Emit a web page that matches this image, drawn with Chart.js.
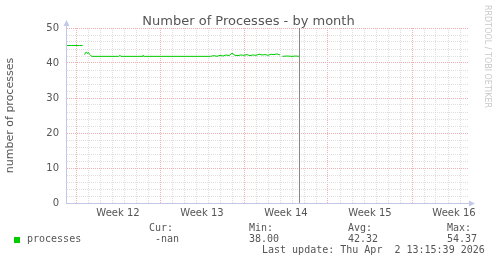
<!DOCTYPE html>
<html>
<head>
<meta charset="utf-8">
<title>Number of Processes - by month</title>
<script src="https://cdn.jsdelivr.net/npm/chart.js@4/dist/chart.umd.min.js"></script>
<style>
html, body { margin: 0; padding: 0; background: #fff; }
#wrap { position: relative; width: 497px; height: 264px; overflow: hidden; }
#chart { position: absolute; left: 0; top: 0; }
.t { position: absolute; font-family: "DejaVu Sans Mono", monospace; font-size: 10px; line-height: 12px; color: #555; white-space: pre; }
.swatch { position: absolute; left: 14px; top: 237px; width: 6px; height: 6px; background: #00cc00; }
</style>
</head>
<body>
<div id="wrap">
  <canvas id="chart" width="497" height="264"></canvas>
  <div class="swatch"></div>
  <div class="t" style="left:27px;top:233px">processes</div>
  <div class="t" style="left:149px;top:222px">Cur:</div>
  <div class="t" style="left:155px;top:233px">-nan</div>
  <div class="t" style="left:249px;top:222px">Min:</div>
  <div class="t" style="left:249px;top:233px">38.00</div>
  <div class="t" style="left:348px;top:222px">Avg:</div>
  <div class="t" style="left:348px;top:233px">42.32</div>
  <div class="t" style="left:447px;top:222px">Max:</div>
  <div class="t" style="left:447px;top:233px">54.37</div>
  <div class="t" style="left:262px;top:244px">Last update: Thu Apr  2 13:15:39 2026</div>
</div>
<script>
// x values are days since the start of week 12
var days = [
    -0.75, -0.4, 0, 0.3, 0.55,
    0.65,
    0.72, 0.8, 0.88, 0.95, 1.02, 1.1, 1.2, 1.3, 2.0, 3.0, 3.55, 3.65, 3.75,
    5.5, 5.58, 5.68, 7.0, 9.0, 11.2,
    11.5, 11.75, 12.0, 12.25, 12.5, 12.75, 13.0, 13.25, 13.5, 13.75, 14.0, 14.25,
    14.5, 14.75, 15.0, 15.25, 15.5, 15.75, 16.0, 16.25, 16.5, 16.75, 17.0,
    17.1,
    17.2, 17.6, 18.0, 18.3, 18.6
];
var processes = [
    45.0, 45.0, 45.0, 45.0, 45.0,
    null,
    42.4, 43.0, 43.1, 42.7, 43.0, 42.6, 42.3, 41.9, 41.9, 41.9, 41.9, 42.2, 41.9,
    41.9, 42.2, 41.9, 41.9, 41.9, 41.9,
    42.1, 41.9, 42.2, 42.0, 42.3, 42.1, 42.8, 42.2, 42.1, 42.3, 42.2, 42.4,
    42.1, 42.3, 42.2, 42.5, 42.3, 42.4, 42.2, 42.5, 42.4, 42.6, 42.3,
    null,
    41.9, 42.0, 41.9, 42.0, 41.9
];
var weekLabels = ['Week 12', 'Week 13', 'Week 14', 'Week 15', 'Week 16'];
var lastUpdateDay = 18.625;
var titleText = 'Number of Processes - by month';
var yAxisTitle = 'number of processes';
var watermark = 'RRDTOOL / TOBI OETIKER';

var axisColor = '#c4c8e8';
var minorGrid = '#dedede';
var majorGrid = '#eeb0b0';
var textColor = '#555';

var decorations = {
    id: 'decorations',
    afterDraw: function (chart) {
        var ctx = chart.ctx, a = chart.chartArea;
        ctx.save();
        ctx.fillStyle = textColor;
        ctx.font = '13px "DejaVu Sans"';
        ctx.textAlign = 'center';
        ctx.textBaseline = 'alphabetic';
        ctx.fillText(titleText, chart.width / 2, 24.5);

        // axis arrows
        ctx.fillStyle = axisColor;
        ctx.strokeStyle = axisColor;
        ctx.lineWidth = 1;
        ctx.beginPath();
        ctx.moveTo(a.left + 0.5, a.top);
        ctx.lineTo(a.left + 0.5, a.top - 3);
        ctx.moveTo(a.right, a.bottom + 0.5);
        ctx.lineTo(a.right + 3, a.bottom + 0.5);
        ctx.stroke();
        ctx.beginPath();
        ctx.moveTo(a.left + 0.5, a.top - 8);
        ctx.lineTo(a.left - 2.5, a.top - 2);
        ctx.lineTo(a.left + 3.5, a.top - 2);
        ctx.closePath();
        ctx.fill();
        ctx.beginPath();
        ctx.moveTo(a.right + 7, a.bottom + 0.5);
        ctx.lineTo(a.right + 1, a.bottom - 2.5);
        ctx.lineTo(a.right + 1, a.bottom + 3.5);
        ctx.closePath();
        ctx.fill();

        // vertical watermark
        ctx.fillStyle = '#c8c8c8';
        ctx.font = '8px "DejaVu Sans"';
        ctx.textAlign = 'left';
        ctx.translate(484.5, 5);
        ctx.rotate(Math.PI / 2);
        ctx.fillText(watermark, 0, 0);
        ctx.restore();
    }
};

var ctx = document.getElementById('chart');
new Chart(ctx, {
    type: 'line',
    data: {
        datasets: [
            {
                label: 'processes',
                data: days.map(function (d, i) { return {x: d, y: processes[i]}; }),
                borderColor: '#00cc00',
                borderWidth: 1,
                pointRadius: 0,
                tension: 0,
                spanGaps: false
            },
            {
                label: 'last update',
                data: [{x: lastUpdateDay, y: 0}, {x: lastUpdateDay, y: 50}],
                borderColor: '#888',
                borderWidth: 1,
                pointRadius: 0
            }
        ]
    },
    options: {
        responsive: false,
        animation: false,
        events: [],
        layout: {padding: {left: 0, top: 28, right: 29, bottom: 0}},
        plugins: {
            legend: {display: false},
            tooltip: {enabled: false}
        },
        scales: {
            x: {
                type: 'linear',
                min: -10 / 12,
                max: 32 + 8 / 12,
                afterBuildTicks: function (scale) {
                    var t = [];
                    for (var k = 0; k <= 65; k++) t.push({value: k * 0.5});
                    scale.ticks = t;
                },
                afterFit: function (scale) { scale.height = 61; },
                ticks: {
                    autoSkip: false,
                    maxRotation: 0,
                    padding: 4,
                    color: textColor,
                    font: {family: 'DejaVu Sans', size: 10},
                    callback: function (v, i) {
                        return i % 14 === 7 ? weekLabels[(i - 7) / 14] : '';
                    }
                },
                grid: {
                    drawTicks: false,
                    lineWidth: 1,
                    color: function (c) {
                        if (c.index % 2 === 1) return 'rgba(0,0,0,0)';
                        return c.index % 14 === 0 ? majorGrid : minorGrid;
                    }
                },
                border: {display: true, color: axisColor, dash: [1, 1]}
            },
            y: {
                min: 0,
                max: 50,
                afterFit: function (scale) { scale.width = 66; },
                ticks: {
                    stepSize: 2,
                    autoSkip: false,
                    padding: 7,
                    color: textColor,
                    font: {family: 'DejaVu Sans', size: 10},
                    callback: function (v) { return v % 10 === 0 ? v : ''; }
                },
                grid: {
                    drawTicks: false,
                    lineWidth: 1,
                    color: function (c) {
                        var v = c.tick.value;
                        if (v === 0) return 'rgba(0,0,0,0)';
                        return v % 10 === 0 ? majorGrid : minorGrid;
                    }
                },
                border: {display: true, color: axisColor, dash: [1, 1]},
                title: {
                    display: true,
                    text: yAxisTitle,
                    color: textColor,
                    font: {family: 'DejaVu Sans', size: 11},
                    padding: {top: 4, bottom: 0}
                }
            }
        }
    },
    plugins: [decorations]
});
</script>
</body>
</html>
